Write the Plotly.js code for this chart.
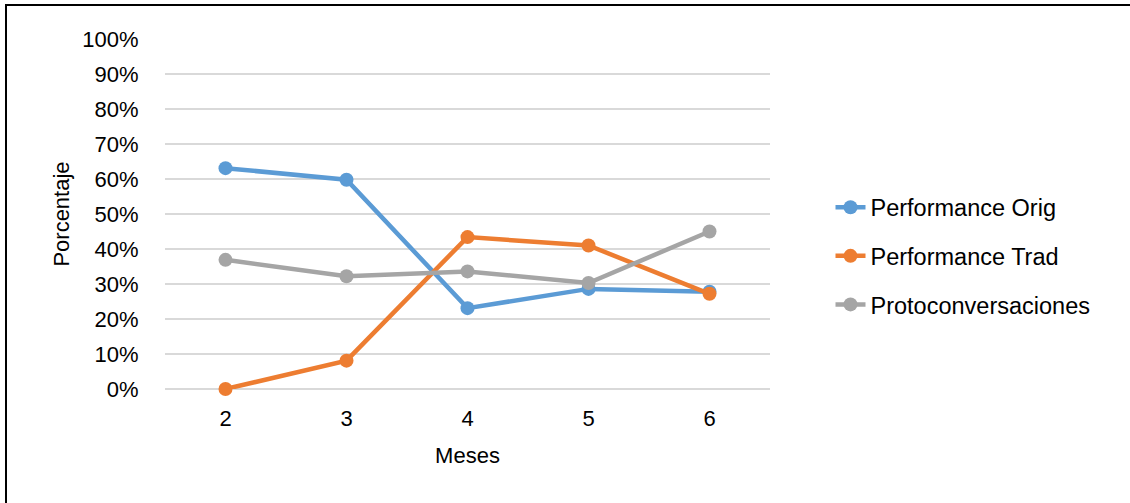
<!DOCTYPE html>
<html><head><meta charset="utf-8">
<script src="https://cdn.plot.ly/plotly-3.0.1.min.js"></script>
<style>
html,body{margin:0;padding:0;background:#fff;}
#chart{width:1130px;height:503px;position:relative;}
#frame{position:absolute;left:5px;top:4px;width:1140px;height:520px;border-left:2px solid #000;border-top:2px solid #000;pointer-events:none;}
</style></head>
<body>
<div id="chart"></div>
<div id="frame"></div>
<script>
const months = [2, 3, 4, 5, 6];
const perfOrig = [0.631, 0.598, 0.231, 0.286, 0.278];
const perfTrad = [0.0, 0.081, 0.434, 0.410, 0.272];
const proto = [0.369, 0.322, 0.336, 0.303, 0.450];
const names = ['Performance Orig', 'Performance Trad', 'Protoconversaciones'];
const colors = ['#5b9bd5', '#ed7d31', '#a5a5a5'];
const series = [perfOrig, perfTrad, proto];

const traces = series.map((s, i) => ({
  x: months, y: s, name: names[i], type: 'scatter', mode: 'lines+markers',
  line: {color: colors[i], width: 4.5},
  marker: {color: colors[i], size: 14},
  legendgroup: 'g' + i,
  cliponaxis: false
}));

const fam = 'Liberation Sans, Arial, sans-serif';
const layout = {
  width: 1130, height: 503,
  margin: {l: 165, r: 360, t: 39, b: 114},
  paper_bgcolor: '#fff', plot_bgcolor: '#fff',
  font: {family: fam, size: 22, color: '#000'},
  showlegend: true,
  legend: {x: 1.1, y: 0.38, xanchor: 'left', yanchor: 'middle', font: {family: fam, size: 23.5, color: '#000'},
           traceorder: 'grouped', tracegroupgap: 15, bgcolor: 'rgba(0,0,0,0)'},
  xaxis: {
    range: [1.5, 6.5], tickvals: months, ticktext: months.map(String),
    showgrid: false, zeroline: false, showline: false,
    ticks: 'outside', ticklen: 10, tickcolor: 'rgba(0,0,0,0)',
    tickfont: {family: fam, size: 22, color: '#000'},
    title: {text: 'Meses', font: {family: fam, size: 22, color: '#000'}, standoff: 17}
  },
  yaxis: {
    range: [0, 1], dtick: 0.1, tickformat: '.0%',
    showgrid: true, gridcolor: '#d9d9d9', gridwidth: 1.5,
    zeroline: true, zerolinecolor: '#d9d9d9', zerolinewidth: 1.5,
    showline: false, ticks: 'outside', ticklen: 21, tickcolor: 'rgba(0,0,0,0)',
    tickfont: {family: fam, size: 22, color: '#000'},
    title: {text: 'Porcentaje', font: {family: fam, size: 22, color: '#000'}, standoff: 6}
  }
};
Plotly.newPlot('chart', traces, layout, {displayModeBar: false, staticPlot: true});
</script>
</body></html>
